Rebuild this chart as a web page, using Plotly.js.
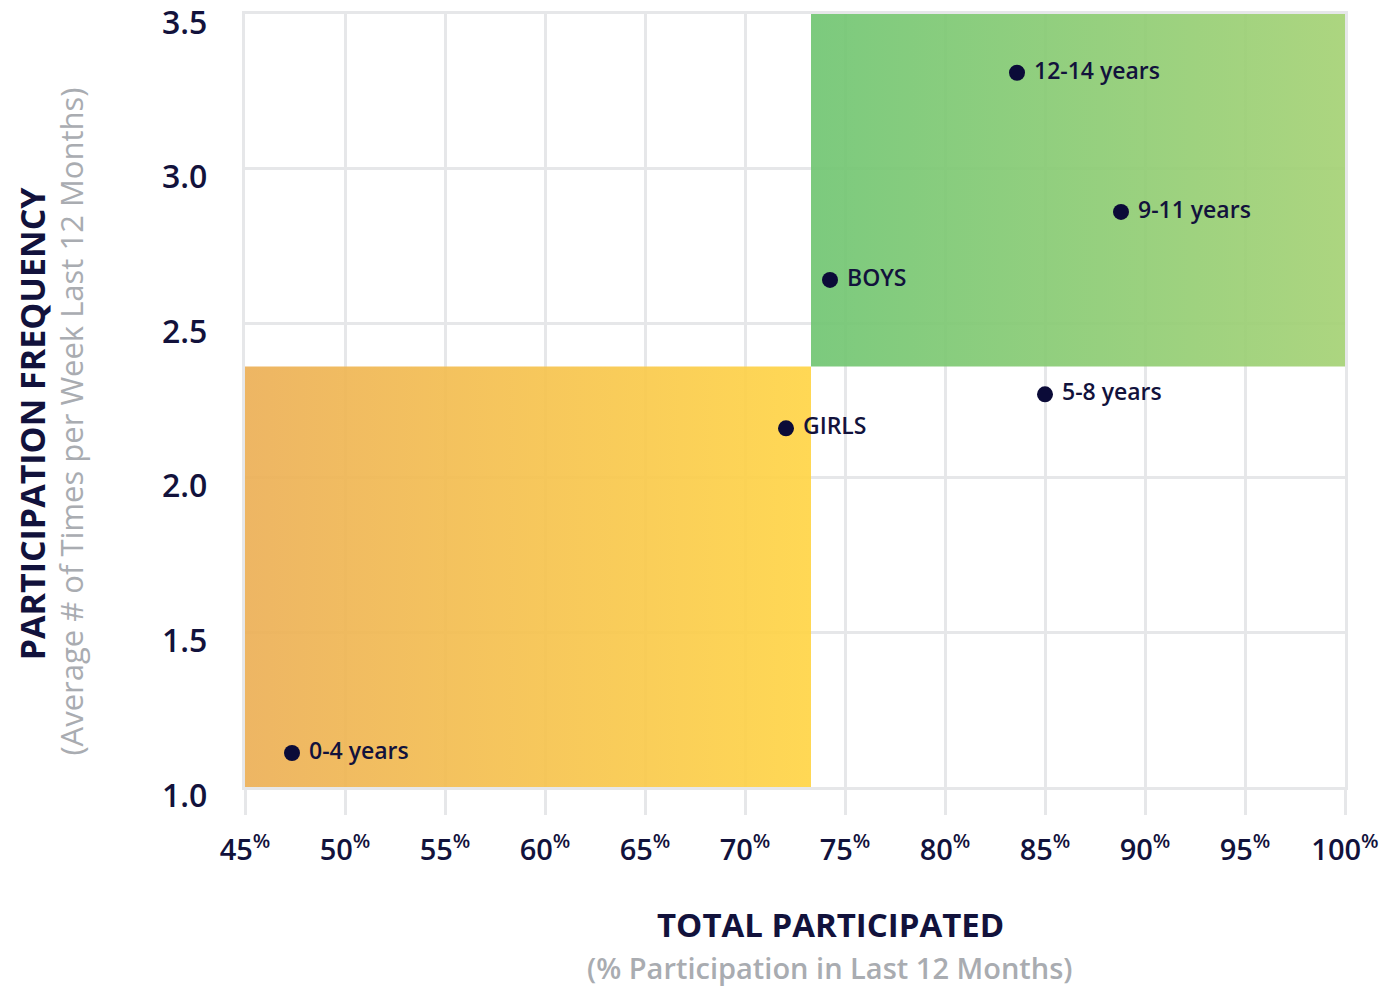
<!DOCTYPE html>
<html>
<head>
<meta charset="utf-8">
<script src="https://cdn.plot.ly/plotly-3.0.1.min.js"></script>
<style>
  html, body { margin: 0; padding: 0; background: #ffffff; }
  #chart { width: 1391px; height: 988px; }
</style>
</head>
<body>
<div id="chart"></div>
<script>
// ---- data ----
const groups = ["12-14 years", "9-11 years", "BOYS", "5-8 years", "GIRLS", "0-4 years"];
const totalParticipated = [83.6, 88.8, 74.25, 85.0, 72.05, 47.35];   // % participation
const frequency = [3.31, 2.86, 2.64, 2.27, 2.16, 1.11];              // times per week
const avgParticipation = 73.3;   // quadrant split on x
const avgFrequency = 2.36;       // quadrant split on y
const xTickValues = [45, 50, 55, 60, 65, 70, 75, 80, 85, 90, 95, 100];
const xTickLabels = xTickValues.map(v => v + "<sup>%</sup>");
const yTickValues = [1.0, 1.5, 2.0, 2.5, 3.0, 3.5];
const yTickLabels = ["1.0", "1.5", "2.0", "2.5", "3.0", "3.5"];
const xRange = [45, 100];
const yRange = [1.0, 3.5];

const navy = "#12123c";
const gray = "#a9acb1";
const gridColor = "#e6e7e9";
const fontFamily = "'Open Sans', 'Noto Sans', sans-serif";

const lowQuad = {
  x: [xRange[0], avgParticipation, avgParticipation, xRange[0], xRange[0]],
  y: [yRange[0], yRange[0], avgFrequency, avgFrequency, yRange[0]],
  type: "scatter", mode: "lines", fill: "toself",
  line: { width: 0 },
  fillgradient: {
    type: "horizontal",
    colorscale: [[0, "rgba(236,176,88,0.93)"], [1, "rgba(255,213,72,0.93)"]]
  },
  hoverinfo: "skip", showlegend: false
};

const highQuad = {
  x: [avgParticipation, xRange[1], xRange[1], avgParticipation, avgParticipation],
  y: [avgFrequency, avgFrequency, yRange[1], yRange[1], avgFrequency],
  type: "scatter", mode: "lines", fill: "toself",
  line: { width: 0 },
  fillgradient: {
    type: "horizontal",
    colorscale: [[0, "rgba(114,198,116,0.93)"], [1, "rgba(166,210,118,0.93)"]]
  },
  hoverinfo: "skip", showlegend: false
};

const pts = {
  x: totalParticipated,
  y: frequency,
  text: groups,
  texttemplate: " %{text}",
  type: "scatter",
  mode: "markers+text",
  textposition: "middle right",
  marker: { size: 16, color: "#0b0b38" },
  textfont: { family: fontFamily, size: 23, color: navy, weight: 600 },
  hoverinfo: "x+y+text",
  showlegend: false,
  cliponaxis: false
};

// y tick labels drawn as annotations anchored to the y axis values
const yTickAnnotations = yTickValues.map((v, i) => ({
  text: yTickLabels[i], xref: "paper", yref: "y",
  x: 0, y: v, xanchor: "right", yanchor: "middle",
  xshift: -36, yshift: -7, showarrow: false,
  font: { family: fontFamily, size: 32, color: navy, weight: 600 }
}));

const layout = {
  width: 1391, height: 988,
  margin: { l: 245, r: 46, t: 14, b: 201 },
  paper_bgcolor: "#ffffff",
  plot_bgcolor: "#ffffff",
  font: { family: fontFamily, color: navy },
  showlegend: false,
  xaxis: {
    range: xRange,
    tickvals: xTickValues,
    ticktext: xTickLabels,
    showgrid: true, gridcolor: gridColor, gridwidth: 3,
    showline: true, linecolor: gridColor, linewidth: 3, mirror: true,
    ticks: "outside", ticklen: 25, tickwidth: 3, tickcolor: gridColor,
    zeroline: false,
    tickfont: { family: fontFamily, size: 29, color: navy, weight: 600 },
    ticklabelstandoff: 10,
    ticklabeloverflow: "allow",
    layer: "below traces",
    fixedrange: true
  },
  yaxis: {
    range: yRange,
    tickvals: yTickValues,
    showticklabels: false,
    showgrid: true, gridcolor: gridColor, gridwidth: 3,
    showline: true, linecolor: gridColor, linewidth: 3, mirror: true,
    ticks: "", zeroline: false,
    layer: "below traces",
    fixedrange: true
  },
  annotations: yTickAnnotations.concat([
    { text: "TOTAL PARTICIPATED", xref: "paper", yref: "paper",
      x: 0.532, y: -0.1785, xanchor: "center", yanchor: "middle", showarrow: false,
      borderpad: 0,
      font: { family: fontFamily, size: 33, color: navy, weight: 700 } },
    { text: "(% Participation in Last 12 Months)", xref: "paper", yref: "paper",
      x: 0.532, y: -0.2329, xanchor: "center", yanchor: "middle", showarrow: false,
      borderpad: 0,
      font: { family: fontFamily, size: 29, color: gray, weight: 600 } },
    { text: "PARTICIPATION FREQUENCY", xref: "paper", yref: "paper",
      x: -0.194, y: 0.47, xanchor: "center", yanchor: "middle", showarrow: false,
      textangle: -90,
      font: { family: fontFamily, size: 34, color: navy, weight: 700 } },
    { text: "(Average # of Times per Week Last 12 Months)", xref: "paper", yref: "paper",
      x: -0.158, y: 0.473, xanchor: "center", yanchor: "middle", showarrow: false,
      textangle: -90,
      font: { family: fontFamily, size: 31, color: gray, weight: 400 } }
  ])
};

Plotly.newPlot("chart", [lowQuad, highQuad, pts], layout, { displayModeBar: false });
</script>
</body>
</html>
